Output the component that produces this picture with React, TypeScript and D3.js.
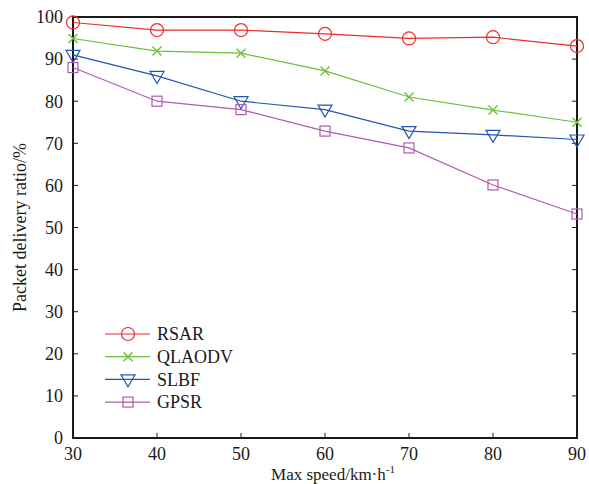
import * as d3 from 'd3';
import { useEffect, useRef } from 'react';

const speeds = [30, 40, 50, 60, 70, 80, 90];
const yTicks = [0, 10, 20, 30, 40, 50, 60, 70, 80, 90, 100];

const rsar = [98.7, 96.9, 96.9, 96.0, 94.9, 95.2, 93.1];
const qlaodv = [94.9, 91.9, 91.4, 87.2, 81.0, 77.9, 75.0];
const slbf = [91.0, 86.0, 80.0, 78.0, 72.9, 72.0, 70.9];
const gpsr = [88.0, 80.0, 78.0, 72.9, 68.9, 60.1, 53.2];

const seriesNames = ['RSAR', 'QLAODV', 'SLBF', 'GPSR'];
const seriesColors = ['#ef2b2b', '#6dbf3a', '#2456b0', '#ad5cae'];
const seriesMarkers = ['circle', 'cross', 'triangle', 'square'];

export default function App() {
    const ref = useRef<SVGSVGElement>(null);

    useEffect(() => {
        const width = 589;
        const height = 484;
        const margin = { top: 17, right: 12, bottom: 46, left: 73 };
        const font = '"Liberation Serif", "Times New Roman", serif';
        const fs = 18;

        const svg = d3.select(ref.current);
        svg.selectAll('*').remove();

        const x = d3.scaleLinear()
            .domain([30, 90])
            .range([margin.left, width - margin.right]);
        const y = d3.scaleLinear()
            .domain([0, 100])
            .range([height - margin.bottom, margin.top]);

        const plotL = x(30), plotR = x(90), plotT = y(100), plotB = y(0);

        // frame
        svg.append('rect')
            .attr('x', plotL).attr('y', plotT)
            .attr('width', plotR - plotL).attr('height', plotB - plotT)
            .attr('fill', 'none').attr('stroke', '#1a1a1a').attr('stroke-width', 2);

        // ticks (inward)
        const tl = 5;
        const tickG = svg.append('g').attr('stroke', '#1a1a1a').attr('stroke-width', 1);
        speeds.forEach(v => {
            tickG.append('line').attr('x1', x(v)).attr('x2', x(v)).attr('y1', plotB).attr('y2', plotB - tl);
        });
        yTicks.forEach(v => {
            tickG.append('line').attr('x1', plotL).attr('x2', plotL + tl).attr('y1', y(v)).attr('y2', y(v));
            tickG.append('line').attr('x1', plotR).attr('x2', plotR - tl).attr('y1', y(v)).attr('y2', y(v));
        });

        // tick labels
        svg.append('g').selectAll('text').data(speeds).join('text')
            .attr('x', d => x(d)).attr('y', 460)
            .attr('text-anchor', 'middle')
            .attr('font-family', font).attr('font-size', fs).attr('fill', '#1a1a1a')
            .text(d => d);
        svg.append('g').selectAll('text').data(yTicks).join('text')
            .attr('x', plotL - 10).attr('y', d => y(d))
            .attr('dy', '0.35em')
            .attr('text-anchor', 'end')
            .attr('font-family', font).attr('font-size', fs).attr('fill', '#1a1a1a')
            .text(d => d);

        // axis titles
        const xt = svg.append('text')
            .attr('x', (plotL + plotR) / 2 + 8).attr('y', 480)
            .attr('text-anchor', 'middle')
            .attr('font-family', font).attr('font-size', 17).attr('fill', '#1a1a1a');
        xt.append('tspan').text('Max speed/km\u00b7h');
        xt.append('tspan').attr('font-size', 11).attr('dy', -7).text('-1');

        svg.append('text')
            .attr('transform', `translate(26,${(plotT + plotB) / 2}) rotate(-90)`)
            .attr('text-anchor', 'middle')
            .attr('font-family', font).attr('font-size', fs).attr('fill', '#1a1a1a')
            .text('Packet delivery ratio/%');

        const drawMarker = (g: any, kind: string, cx: number, cy: number, color: string) => {
            if (kind === 'circle') {
                g.append('circle').attr('cx', cx).attr('cy', cy).attr('r', 6.5)
                    .attr('fill', 'none').attr('stroke', color).attr('stroke-width', 1.2);
            } else if (kind === 'cross') {
                const s = 4.5;
                g.append('path')
                    .attr('d', `M${cx - s},${cy - s}L${cx + s},${cy + s}M${cx - s},${cy + s}L${cx + s},${cy - s}`)
                    .attr('stroke', color).attr('stroke-width', 1.4).attr('fill', 'none');
            } else if (kind === 'triangle') {
                const w = 7, h = 11;
                g.append('path')
                    .attr('d', `M${cx - w},${cy - h / 2 + 1}L${cx + w},${cy - h / 2 + 1}L${cx},${cy + h / 2 + 2}Z`)
                    .attr('stroke', color).attr('stroke-width', 1.2).attr('fill', 'none');
            } else {
                const s = 5;
                g.append('rect').attr('x', cx - s).attr('y', cy - s).attr('width', 2 * s).attr('height', 2 * s)
                    .attr('stroke', color).attr('stroke-width', 1.2).attr('fill', 'none');
            }
        };

        const allSeries = [rsar, qlaodv, slbf, gpsr];
        const line = d3.line<number>()
            .x((_, i) => x(speeds[i]))
            .y(d => y(d));

        allSeries.forEach((vals, si) => {
            const g = svg.append('g');
            g.append('path')
                .attr('d', line(vals))
                .attr('fill', 'none')
                .attr('stroke', seriesColors[si])
                .attr('stroke-width', 1.2);
            vals.forEach((v, i) => drawMarker(g, seriesMarkers[si], x(speeds[i]), y(v), seriesColors[si]));
        });

        // legend
        const lg = svg.append('g');
        seriesNames.forEach((name, i) => {
            const ly = 334 + i * 22.7;
            lg.append('line').attr('x1', 105).attr('x2', 150).attr('y1', ly).attr('y2', ly)
                .attr('stroke', seriesColors[i]).attr('stroke-width', 1.2);
            drawMarker(lg, seriesMarkers[i], 128, ly, seriesColors[i]);
            lg.append('text').attr('x', 157).attr('y', ly).attr('dy', '0.35em')
                .attr('font-family', font).attr('font-size', fs).attr('fill', '#1a1a1a')
                .text(name);
        });
    }, []);

    return (
        <svg ref={ref} width={589} height={484}
            style={{ position: 'absolute', left: 0, top: 0, background: '#fff' }} />
    );
}
